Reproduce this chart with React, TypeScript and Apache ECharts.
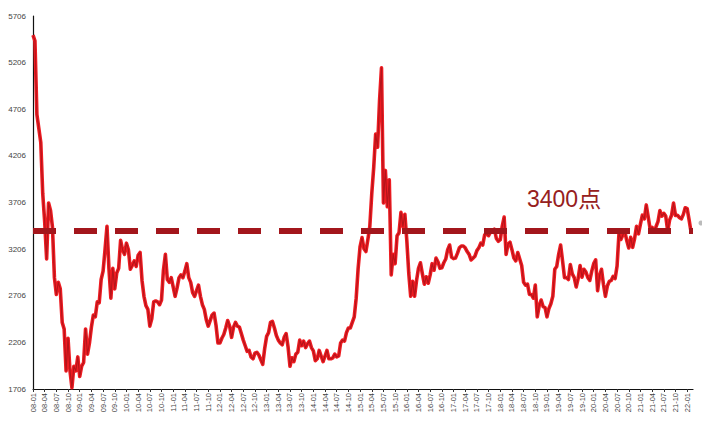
import React, { useEffect, useRef } from "react";
import * as echarts from "echarts";

// Semi-monthly index levels (1st and 15th of each month)
const y2008 = [5500, 5440, 4650, 4500, 4350, 3800, 3500, 3100, 3700, 3620, 3440, 2900, 2720, 2850, 2780, 2420, 2350, 1900, 2250, 1900, 1720, 1950, 1900, 2050];
const y2009 = [1840, 1950, 1990, 2350, 2080, 2200, 2370, 2500, 2480, 2640, 2630, 2880, 2970, 3200, 3450, 3000, 2680, 3000, 2780, 2950, 3000, 3300, 3200, 3150];
const y2010 = [3270, 3200, 2990, 3030, 3080, 3020, 3140, 3170, 2870, 2700, 2600, 2560, 2380, 2460, 2640, 2650, 2640, 2610, 2660, 2980, 3150, 2880, 2850, 2900];
const y2011 = [2800, 2700, 2790, 2900, 2930, 2900, 2970, 3050, 2900, 2850, 2740, 2700, 2760, 2820, 2700, 2610, 2560, 2450, 2380, 2440, 2500, 2520, 2390, 2200];
const y2012 = [2200, 2250, 2290, 2360, 2440, 2380, 2260, 2370, 2420, 2380, 2370, 2300, 2230, 2170, 2110, 2120, 2050, 2030, 2090, 2100, 2070, 2020, 1970, 2140];
const y2013 = [2270, 2310, 2420, 2430, 2360, 2280, 2230, 2200, 2180, 2260, 2300, 2160, 1950, 2040, 2000, 2080, 2100, 2230, 2170, 2220, 2150, 2190, 2220, 2150];
const y2014 = [2115, 2010, 2030, 2120, 2060, 2000, 2060, 2120, 2030, 2030, 2040, 2080, 2050, 2060, 2200, 2230, 2220, 2310, 2360, 2360, 2420, 2480, 2680, 3000];
const y2015 = [3234, 3330, 3210, 3180, 3310, 3450, 3800, 4080, 4440, 4300, 4800, 5150, 3700, 4050, 3660, 3950, 2930, 3150, 3050, 3350, 3380, 3600, 3450, 3580];
const y2016 = [3300, 2950, 2700, 2860, 2700, 2870, 3000, 3060, 2940, 2830, 2910, 2840, 2930, 3050, 2980, 3110, 3070, 3000, 3005, 3060, 3100, 3200, 3250, 3120];
const y2017 = [3104, 3110, 3160, 3220, 3240, 3240, 3220, 3180, 3150, 3090, 3110, 3130, 3190, 3220, 3270, 3250, 3360, 3370, 3350, 3390, 3390, 3420, 3320, 3290];
const y2018 = [3307, 3450, 3550, 3150, 3260, 3280, 3200, 3110, 3080, 3170, 3100, 3030, 2850, 2820, 2830, 2720, 2720, 2680, 2820, 2480, 2600, 2660, 2590, 2580];
const y2019 = [2480, 2570, 2620, 2700, 2990, 3020, 3150, 3250, 3080, 2900, 2900, 2880, 3040, 2940, 2900, 2800, 2890, 3030, 2905, 2990, 2960, 2900, 2870, 2970];
const y2020 = [3050, 3090, 2760, 2920, 2990, 2830, 2700, 2810, 2860, 2870, 2915, 2890, 3025, 3380, 3310, 3360, 3395, 3295, 3218, 3332, 3225, 3320, 3450, 3370];
const y2021 = [3473, 3570, 3530, 3680, 3550, 3420, 3440, 3400, 3446, 3500, 3620, 3560, 3590, 3560, 3400, 3520, 3570, 3700, 3568, 3570, 3545, 3530, 3576, 3650];
const y2022 = [3640, 3520, 3390];

const yMin = 1706;
const yMax = 5706;
const yStep = 500;
const refLevel = 3400;
const refLabel = "3400点";

export default function App() {
  const ref = useRef<HTMLDivElement>(null);
  useEffect(() => {
    const chart = echarts.init(ref.current!, null, { renderer: "svg" });
    const values = [
      ...y2008, ...y2009, ...y2010, ...y2011, ...y2012, ...y2013, ...y2014,
      ...y2015, ...y2016, ...y2017, ...y2018, ...y2019, ...y2020, ...y2021, ...y2022,
    ];
    const data = values.map((v, i) => [i / 2, v]);
    const pad = (n: number) => (n < 10 ? "0" + n : "" + n);
    const font = "'Liberation Sans', Arial, sans-serif";
    chart.setOption({
      animation: false,
      backgroundColor: "#ffffff",
      grid: { left: 33, right: 9, top: 16, bottom: 39 },
      xAxis: {
        type: "value",
        min: 0,
        max: 169.5,
        interval: 3,
        splitLine: { show: false },
        axisLine: { lineStyle: { color: "#111", width: 1.2 } },
        axisTick: { show: true, length: 3, lineStyle: { color: "#333" } },
        axisLabel: {
          rotate: 90,
          margin: 4,
          fontSize: 7.5,
          color: "#444",
          fontFamily: font,
          showMaxLabel: false,
          formatter: (v: number) => {
            const m = Math.round(v);
            if (m % 3 !== 0) return "";
            return pad(8 + Math.floor(m / 12)) + "-" + pad((m % 12) + 1);
          },
        },
      },
      yAxis: {
        type: "value",
        min: yMin,
        max: yMax,
        interval: yStep,
        splitLine: { show: false },
        axisLine: { show: true, lineStyle: { color: "#111", width: 1.2 } },
        axisTick: { show: false },
        axisLabel: {
          margin: 7,
          fontSize: 8,
          color: "#444",
          fontFamily: font,
          formatter: (v: number) => String(Math.round(v)),
        },
      },
      series: [
        {
          type: "line",
          data,
          showSymbol: false,
          smooth: false,
          lineStyle: { color: "#ee1c22", width: 3.6, join: "round" },
          z: 2,
        },
        {
          type: "line",
          data,
          showSymbol: false,
          smooth: false,
          lineStyle: { color: "#b5141a", width: 1.1, join: "round" },
          z: 3,
          markLine: {
            silent: true,
            symbol: "none",
            label: { show: false },
            lineStyle: { color: "#a3161c", width: 6, type: [23, 18], opacity: 1 },
            data: [{ yAxis: refLevel }],
          },
        },
      ],
      graphic: [
        {
          type: "text",
          left: 527,
          top: 187,
          style: {
            text: refLabel,
            fontSize: 23,
            fill: "#962020",
            fontFamily: "'Liberation Sans', 'Noto Sans CJK SC', sans-serif",
          },
        },
        {
          type: "circle",
          shape: { cx: 701, cy: 223, r: 2.5 },
          style: { fill: "#bbbbbb" },
        },
      ],
    });
    return () => chart.dispose();
  }, []);
  return (
    <div
      ref={ref}
      style={{ position: "absolute", left: 0, top: 0, width: 702, height: 428, background: "#fff" }}
    />
  );
}
